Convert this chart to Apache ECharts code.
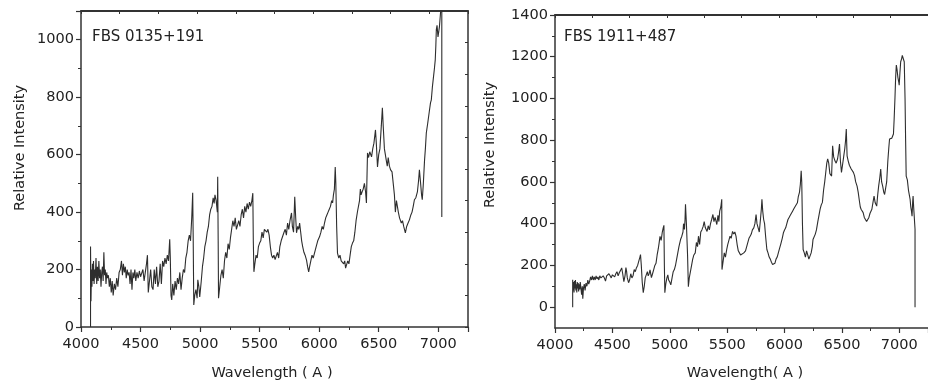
<!DOCTYPE html>
<html><head><meta charset="utf-8">
<script src="https://cdn.jsdelivr.net/npm/echarts@6/dist/echarts.min.js"></script>
<style>html,body{margin:0;padding:0;background:#fff}#c{width:928px;height:387px}</style>
</head><body><div id="c"></div>
<script>
// Panel 1: FBS 0135+191
const title1 = 'FBS 0135+191';
const wave1 = [4080,4080,4084,4088,4092,4096,4100,4105,4110,4115,4120,4126,4132,4138,4144,4150,4156,4162,4168,4174,4180,4186,4192,4198,4204,4210,4216,4222,4230,4238,4246,4254,4262,4270,4280,4290,4300,4310,4320,4330,4340,4348,4356,4364,4372,4380,4388,4396,4404,4412,4420,4428,4436,4444,4452,4460,4470,4480,4490,4500,4510,4520,4530,4540,4550,4558,4565,4575,4585,4595,4605,4615,4625,4635,4645,4655,4665,4675,4685,4695,4705,4715,4725,4735,4745,4750,4756,4762,4770,4780,4790,4800,4810,4820,4830,4840,4850,4860,4870,4880,4890,4900,4910,4920,4930,4938,4942,4947,4955,4965,4975,4981,4990,4997,5010,5020,5030,5040,5050,5060,5070,5080,5090,5100,5110,5118,5125,5135,5145,5148,5152,5155,5165,5175,5185,5195,5205,5215,5225,5235,5245,5255,5265,5275,5285,5295,5305,5315,5325,5335,5345,5355,5365,5375,5385,5395,5405,5415,5425,5435,5443,5447,5452,5460,5470,5480,5490,5500,5510,5520,5530,5540,5550,5560,5570,5580,5590,5600,5610,5620,5630,5641,5650,5660,5670,5683,5695,5705,5715,5725,5735,5745,5755,5768,5775,5785,5795,5803,5810,5820,5828,5836,5845,5853,5862,5872,5882,5894,5903,5912,5920,5930,5940,5950,5962,5975,5988,6003,6015,6025,6035,6045,6055,6065,6075,6085,6095,6105,6113,6120,6128,6135,6140,6147,6154,6165,6175,6185,6196,6206,6215,6222,6229,6240,6250,6260,6270,6280,6290,6300,6310,6322,6330,6339,6346,6352,6360,6370,6380,6390,6397,6406,6415,6425,6440,6450,6460,6473,6480,6490,6500,6510,6522,6531,6538,6548,6556,6563,6572,6580,6590,6600,6612,6622,6632,6640,6649,6656,6665,6675,6690,6700,6710,6724,6735,6745,6758,6770,6780,6790,6800,6812,6825,6835,6842,6852,6860,6866,6875,6885,6892,6900,6912,6925,6935,6942,6951,6960,6968,6975,6980,6984,6990,6998,7005,7010,7018,7030,7030];
const flux1 = [0,280,90,200,140,220,160,230,150,200,170,240,150,210,160,230,170,200,140,190,210,160,260,180,200,150,190,170,180,140,170,120,160,110,150,130,170,140,190,200,230,180,220,190,210,170,200,180,190,150,200,130,190,170,200,160,190,170,195,175,180,200,160,190,220,250,120,160,200,140,130,200,150,210,140,160,220,150,230,210,240,220,250,230,305,240,110,94,150,110,160,130,170,150,190,130,170,200,190,240,260,300,320,300,380,467,320,77,110,130,100,164,140,105,160,210,240,280,300,330,350,390,410,420,450,430,460,440,400,523,300,100,140,180,200,170,230,260,240,290,270,310,340,370,350,380,340,338,370,350,390,410,380,420,400,430,410,435,420,440,466,300,192,220,250,240,280,292,300,330,310,340,345,330,340,320,280,250,240,250,235,233,260,240,280,303,300,330,340,320,362,340,370,397,350,330,453,380,328,350,340,362,330,300,279,260,250,233,210,192,210,230,250,240,244,280,300,314,330,350,340,362,380,390,400,410,420,440,432,460,480,557,500,350,257,240,250,230,233,220,230,205,199,230,220,250,280,292,300,330,370,402,400,440,480,460,470,480,500,470,432,606,590,610,592,620,640,686,640,557,600,620,700,763,700,620,600,582,560,590,560,547,540,500,460,400,440,440,400,380,362,370,350,328,350,360,373,390,400,420,443,450,470,510,547,500,460,443,500,580,620,676,710,750,780,791,836,870,900,930,980,1035,1050,1010,1030,1045,1040,1150,383];
const xTicks1 = [4000,4500,5000,5500,6000,6500,7000];
const yTicks1 = [0,200,400,600,800,1000];

// Panel 2: FBS 1911+487
const title2 = 'FBS 1911+487';
const wave2 = [4154,4154,4158,4162,4166,4170,4174,4178,4182,4186,4190,4194,4198,4202,4206,4210,4215,4220,4226,4232,4238,4242,4248,4255,4262,4270,4278,4286,4294,4302,4310,4318,4326,4334,4342,4350,4358,4366,4374,4382,4390,4400,4410,4420,4430,4440,4450,4460,4470,4480,4490,4500,4510,4520,4530,4540,4550,4560,4570,4581,4590,4600,4610,4618,4624,4630,4641,4650,4660,4670,4680,4690,4700,4709,4720,4730,4740,4745,4752,4760,4769,4778,4786,4795,4805,4812,4820,4828,4840,4850,4860,4870,4880,4890,4900,4908,4915,4925,4935,4943,4949,4953,4957,4965,4975,4983,4990,5000,5009,5020,5030,5040,5051,5060,5070,5080,5094,5105,5115,5120,5128,5133,5137,5145,5155,5162,5170,5180,5190,5200,5210,5222,5232,5242,5250,5260,5270,5280,5291,5300,5310,5325,5335,5345,5355,5365,5376,5385,5395,5410,5420,5428,5435,5445,5453,5455,5465,5475,5485,5496,5505,5515,5525,5535,5547,5557,5567,5577,5587,5597,5607,5617,5630,5645,5660,5675,5690,5700,5710,5720,5732,5742,5752,5760,5770,5780,5790,5798,5803,5810,5818,5826,5835,5846,5856,5866,5876,5886,5896,5906,5916,5926,5936,5946,5956,5966,5980,5991,6000,6010,6020,6030,6040,6050,6060,6070,6080,6090,6103,6112,6120,6130,6138,6145,6150,6156,6162,6172,6182,6192,6202,6212,6222,6232,6242,6248,6258,6268,6278,6290,6300,6310,6320,6330,6340,6350,6360,6368,6376,6385,6395,6410,6419,6428,6440,6450,6462,6470,6479,6487,6496,6505,6515,6525,6532,6538,6545,6555,6565,6581,6590,6600,6610,6620,6632,6642,6652,6660,6667,6675,6685,6695,6705,6715,6726,6735,6745,6761,6770,6780,6790,6803,6812,6820,6830,6838,6846,6855,6865,6872,6880,6890,6900,6908,6915,6925,6935,6942,6949,6955,6962,6968,6974,6980,6988,6995,6999,7005,7012,7020,7026,7035,7043,7050,7055,7060,7070,7080,7094,7100,7106,7111,7116,7120,7125,7130,7134,7137,7137];
const flux2 = [0,131,80,120,70,125,90,130,80,110,70,120,90,115,75,110,85,120,90,60,100,40,90,110,80,115,100,130,110,125,145,130,150,130,145,130,150,135,145,130,150,140,135,150,140,125,150,145,160,150,140,155,160,145,160,170,150,165,175,188,160,122,150,190,170,140,117,130,160,140,150,180,170,188,200,220,240,252,200,120,69,100,140,131,170,150,160,179,141,160,180,200,210,250,280,310,339,320,360,380,392,200,69,110,140,155,130,120,107,140,170,180,203,230,260,290,324,340,360,400,372,420,493,400,250,98,140,170,200,230,250,260,310,290,340,300,360,370,387,410,380,363,390,370,400,420,444,410,430,396,440,410,460,480,517,180,220,260,240,276,300,320,340,330,363,350,360,340,300,270,260,250,255,260,270,300,330,340,350,370,380,400,444,400,380,360,420,470,517,460,420,400,340,276,260,240,230,215,204,204,210,230,240,260,280,300,330,358,370,380,400,420,430,440,450,460,470,480,483,500,530,550,590,653,600,400,276,260,240,270,250,230,228,260,290,324,330,350,370,410,440,470,490,502,560,600,650,690,710,690,640,628,773,720,700,690,710,740,782,700,646,680,720,760,800,854,725,700,680,662,660,646,630,600,580,550,510,480,469,460,453,430,420,410,405,430,450,469,500,532,500,484,540,580,620,662,600,580,550,540,532,600,700,760,806,800,810,820,830,900,1000,1100,1160,1140,1100,1080,1064,1120,1176,1190,1206,1200,1176,1000,800,628,610,560,517,480,460,436,500,532,480,436,400,373,0];
const xTicks2 = [4000,4500,5000,5500,6000,6500,7000];
const yTicks2 = [0,200,400,600,800,1000,1200,1400];
const yMinor2 = [100,300,500,700,900,1100,1300];

const xLabel1 = 'Wavelength ( A )';
const xLabel2 = 'Wavelength( A )';
const yLabel = 'Relative Intensity';

const FONT = '"DejaVu Sans", sans-serif';
const TXT = '#222';
const AX = '#333';
const fmt = v => String(v);

function zip(a, b) { return a.map((v, i) => [v, b[i]]); }

function bottomAxis(gi) {
  return {
    type: 'value', gridIndex: gi, position: 'bottom', min: 4000, max: 7250, interval: 500,
    axisLine: { show: true, onZero: false, lineStyle: { color: AX, width: 1.5 } },
    axisTick: { show: true, inside: false, length: 5, lineStyle: { color: AX, width: 1.2 } },
    minorTick: { show: true, splitNumber: 2, length: 3, lineStyle: { color: AX, width: 1 } },
    axisLabel: { show: true, color: TXT, fontFamily: FONT, fontSize: 14.5, margin: 10, showMaxLabel: false, formatter: fmt },
    splitLine: { show: false }, minorSplitLine: { show: false }
  };
}
function topAxis(gi) {
  return {
    type: 'value', gridIndex: gi, position: 'top', min: 4000, max: 7250, interval: 325,
    axisLine: { show: true, onZero: false, lineStyle: { color: AX, width: 2 } },
    axisTick: { show: true, inside: true, length: 3, lineStyle: { color: AX, width: 1 } },
    axisLabel: { show: false }, splitLine: { show: false }
  };
}

const option = {
  animation: false,
  backgroundColor: '#fff',
  grid: [
    { left: 81, top: 11, width: 387, height: 316, containLabel: false },
    { left: 555, top: 15, width: 380, height: 313, containLabel: false }
  ],
  xAxis: [bottomAxis(0), topAxis(0), bottomAxis(1), topAxis(1)],
  yAxis: [
    {
      type: 'value', gridIndex: 0, position: 'left', min: 0, max: 1100, interval: 200,
      axisLine: { show: true, onZero: false, lineStyle: { color: AX, width: 1.5 } },
      axisTick: { show: true, inside: false, length: 5, lineStyle: { color: AX, width: 1.2 } },
      minorTick: { show: true, splitNumber: 2, length: 3, lineStyle: { color: AX, width: 1 } },
      axisLabel: { color: TXT, fontFamily: FONT, fontSize: 14.5, margin: 7, showMaxLabel: false, formatter: fmt },
      splitLine: { show: false }, minorSplitLine: { show: false }
    },
    {
      type: 'value', gridIndex: 0, position: 'right', min: 0, max: 1100, interval: 110,
      axisLine: { show: true, onZero: false, lineStyle: { color: AX, width: 1.5 } },
      axisTick: { show: true, inside: true, length: 3, lineStyle: { color: AX, width: 1 } },
      axisLabel: { show: false }, splitLine: { show: false }
    },
    {
      type: 'value', gridIndex: 1, position: 'left', min: -100, max: 1400,
      axisLine: { show: true, onZero: false, lineStyle: { color: AX, width: 1.5 } },
      axisTick: { show: true, inside: false, length: 5, customValues: yTicks2, lineStyle: { color: AX, width: 1.2 } },
      axisLabel: { color: TXT, fontFamily: FONT, fontSize: 14.5, margin: 7, customValues: yTicks2, formatter: fmt },
      splitLine: { show: false }
    },
    {
      type: 'value', gridIndex: 1, position: 'left', min: -100, max: 1400,
      axisLine: { show: false },
      axisTick: { show: true, inside: false, length: 3, customValues: yMinor2, lineStyle: { color: AX, width: 1 } },
      axisLabel: { show: false }, splitLine: { show: false }
    }
  ],
  series: [
    {
      type: 'line', xAxisIndex: 0, yAxisIndex: 0, data: zip(wave1, flux1),
      showSymbol: false, symbol: 'none', clip: true, silent: true,
      lineStyle: { color: '#2e2e2e', width: 1.1 }
    },
    {
      type: 'line', xAxisIndex: 2, yAxisIndex: 2, data: zip(wave2, flux2),
      showSymbol: false, symbol: 'none', clip: true, silent: true,
      lineStyle: { color: '#2e2e2e', width: 1.1 }
    }
  ],
  graphic: [
    { type: 'text', left: 92, top: 30, style: { text: title1, fill: TXT, font: '15px ' + FONT } },
    { type: 'text', left: 564, top: 30, style: { text: title2, fill: TXT, font: '15px ' + FONT } },
    { type: 'text', x: 20, y: 148, rotation: Math.PI / 2, style: { text: yLabel, fill: TXT, font: '14.5px ' + FONT, align: 'center', verticalAlign: 'middle' } },
    { type: 'text', x: 490, y: 145, rotation: Math.PI / 2, style: { text: yLabel, fill: TXT, font: '14.5px ' + FONT, align: 'center', verticalAlign: 'middle' } },
    { type: 'text', x: 272, y: 373, style: { text: xLabel1, fill: TXT, font: '14.5px ' + FONT, align: 'center', verticalAlign: 'middle' } },
    { type: 'text', x: 745, y: 373, style: { text: xLabel2, fill: TXT, font: '14.5px ' + FONT, align: 'center', verticalAlign: 'middle' } }
  ]
};

const chart = echarts.init(document.getElementById('c'), null, { renderer: 'canvas' });
chart.setOption(option);
</script>
</body></html>
